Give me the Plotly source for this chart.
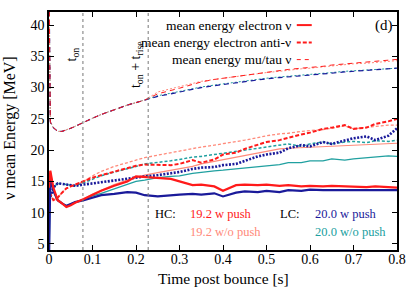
import plotly.graph_objects as go

# ---------------- data ----------------
t = [0, 0.003, 0.01, 0.02, 0.03, 0.04, 0.05, 0.06, 0.08, 0.1, 0.12, 0.15, 0.18, 0.2, 0.22,
     0.25, 0.28, 0.3, 0.33, 0.35, 0.38, 0.4, 0.43, 0.45, 0.48, 0.5, 0.53, 0.55, 0.58, 0.6,
     0.63, 0.65, 0.68, 0.7, 0.73, 0.75, 0.78, 0.8]

mu_early = [48, 24.5, 23.6, 23.0, 23.0, 23.2, 23.5, 23.8, 24.5, 25.1, 25.7, 26.5, 27.2, 27.6, 28.0]
mutau_hc_push = mu_early + [29.0, 29.5, 29.9, 30.5, 30.9, 31.3, 31.5, 31.8, 32.0, 32.3, 32.5, 32.7, 32.9,
                            33.1, 33.2, 33.4, 33.6, 33.8, 33.9, 34.1, 34.2, 34.4, 34.5]
mutau_hc_nopush = mu_early + [29.3, 29.8, 30.2, 30.7, 31.0, 31.3, 31.5, 31.7, 31.9, 32.2, 32.4, 32.6, 32.8,
                              33.0, 33.1, 33.3, 33.5, 33.6, 33.8, 33.9, 34.0, 34.2, 34.3]
mutau_lc_push = mu_early + [28.6, 29.0, 29.3, 29.7, 30.0, 30.3, 30.5, 30.8, 31.0, 31.2, 31.4, 31.6, 31.7,
                            31.9, 32.0, 32.2, 32.3, 32.5, 32.6, 32.8, 32.9, 33.0, 33.1]
mutau_lc_nopush = mu_early + [28.7, 29.1, 29.4, 29.8, 30.1, 30.4, 30.6, 30.9, 31.1, 31.3, 31.5, 31.7, 31.8,
                              32.0, 32.1, 32.3, 32.4, 32.6, 32.7, 32.8, 32.9, 33.0, 33.1]

nue_hc_push = [14.0, 16.7, 14.0, 12.0, 11.5, 10.9, 11.2, 11.6, 12.2, 12.9, 13.5, 14.3, 15.0, 15.8, 15.7,
               15.5, 15.4, 15.0, 14.4, 14.5, 14.2, 13.5, 14.4, 14.5, 14.4, 14.5, 14.3, 14.4, 14.2, 14.3,
               14.2, 14.3, 14.2, 14.1, 14.1, 14.2, 14.1, 14.0]
nue_lc_push = [2.0, 15.8, 13.5, 12.0, 11.5, 11.1, 11.4, 11.7, 12.0, 12.4, 12.8, 13.0, 13.3, 13.2, 12.8,
               12.6, 12.8, 12.9, 13.0, 12.9, 13.1, 12.6, 13.2, 13.4, 13.3, 13.5, 13.3, 13.6, 13.5, 13.7,
               13.6, 13.6, 13.5, 13.6, 13.6, 13.5, 13.6, 13.6]
nue_hc_nopush = [14.0, 16.7, 14.0, 12.0, 11.5, 10.9, 11.2, 11.6, 12.2, 13.0, 13.6, 14.5, 15.2, 15.6, 16.0,
                 16.4, 16.8, 17.0, 17.4, 17.8, 18.2, 18.5, 18.9, 19.2, 19.5, 19.8, 20.2, 20.3, 20.4, 20.5,
                 20.6, 20.6, 20.7, 20.8, 20.9, 21.0, 21.1, 21.1]
nue_lc_nopush = [2.0, 15.8, 13.5, 12.0, 11.5, 11.1, 11.4, 11.7, 12.1, 12.7, 13.1, 13.8, 14.5, 15.0, 15.2,
                 15.6, 15.8, 15.9, 16.3, 16.5, 16.7, 16.8, 17.0, 17.1, 17.3, 17.5, 17.7, 18.0, 18.0, 18.3,
                 18.3, 18.6, 18.4, 18.6, 18.8, 18.9, 19.1, 19.0]

anue_hc_push = [13.0, 13.0, 12.0, 12.4, 13.2, 13.9, 14.2, 14.5, 15.0, 15.6, 16.0, 16.6, 17.1, 17.5, 17.7,
                17.7, 17.6, 17.8, 18.4, 18.0, 18.5, 19.3, 19.6, 20.2, 20.8, 21.3, 21.6, 22.0, 22.5, 22.8,
                23.4, 23.6, 24.0, 23.4, 23.6, 24.2, 24.6, 25.0]
anue_lc_push = [12.0, 12.5, 14.0, 14.7, 14.6, 14.5, 14.3, 14.3, 14.5, 14.7, 14.9, 15.1, 15.4, 15.6, 15.8,
                16.0, 16.3, 16.5, 17.0, 17.2, 17.3, 17.6, 17.8, 18.3, 19.0, 19.3, 19.6, 20.3, 20.8, 20.6,
                21.3, 21.0, 21.6, 21.9, 22.2, 21.6, 22.3, 23.5]
anue_hc_nopush = [13.0, 13.0, 12.0, 12.4, 13.2, 13.9, 14.2, 14.5, 15.0, 15.9, 16.6, 17.4, 18.0, 18.4, 18.8,
                  19.2, 19.6, 19.9, 20.3, 20.5, 20.8, 21.0, 21.3, 21.6, 22.0, 22.3, 22.6, 22.7, 23.0, 23.1,
                  23.3, 23.5, 23.9, 23.4, 23.7, 23.8, 24.0, 24.0]
anue_lc_nopush = [12.0, 12.5, 14.0, 14.7, 14.6, 14.5, 14.3, 14.3, 14.8, 15.4, 15.9, 16.5, 17.0, 17.4, 17.8,
                  18.0, 18.3, 18.5, 18.9, 19.0, 19.3, 19.5, 19.8, 20.0, 20.4, 20.5, 20.8, 21.0, 20.6, 21.0,
                  21.3, 21.0, 21.3, 21.4, 21.2, 21.5, 21.4, 21.6]

t_on = 0.078
t_on_rise = 0.228
x_ticks = [0, 0.1, 0.2, 0.3, 0.4, 0.5, 0.6, 0.7, 0.8]
x_ticklabels = ["0", "0.1", "0.2", "0.3", "0.4", "0.5", "0.6", "0.7", "0.8"]
y_ticks = [5, 10, 15, 20, 25, 30, 35, 40]

legend_labels = ["mean energy electron \u03bd", "mean energy electron anti-\u03bd", "mean energy mu/tau \u03bd"]
model_labels = ["19.2 w push", "19.2 w/o push", "20.0 w push", "20.0 w/o push"]
x_title = "Time post bounce [s]"
y_title = "\u03bd mean Energy [MeV]"

# ---------------- style ----------------
RED = "#ff1a1a"
SALMON = "#ff8a7a"
NAVY = "#1a1a9a"
TEAL = "#20a0a0"
FONT = "Liberation Serif"

fig = go.Figure()

def add(y, color, width, dash):
    fig.add_trace(go.Scatter(x=t, y=y, mode="lines",
                             line=dict(color=color, width=width, dash=dash),
                             showlegend=False, hoverinfo="skip"))

# mu/tau
add(mutau_lc_nopush, TEAL, 1.0, "2px,2px")
add(mutau_hc_nopush, SALMON, 1.0, "2px,2px")
add(mutau_lc_push, NAVY, 1.2, "5px,4px")
add(mutau_hc_push, RED, 1.0, "5px,4px")
# electron nu
add(nue_lc_nopush, TEAL, 1.3, "solid")
add(nue_hc_nopush, SALMON, 1.2, "solid")
# anti nu
add(anue_lc_nopush, TEAL, 1.5, "3px,2px")
add(anue_hc_nopush, SALMON, 1.3, "3px,2px")
add(anue_lc_push, NAVY, 2.6, "2px,1.5px")
add(anue_hc_push, RED, 2.0, "4px,2px")
# electron nu w push
add(nue_lc_push, NAVY, 2.2, "solid")
add(nue_hc_push, RED, 2.2, "solid")

shapes = []
for xv in (t_on, t_on_rise):
    shapes.append(dict(type="line", xref="x", yref="paper", x0=xv, x1=xv, y0=0, y1=1,
                       line=dict(color="#777777", width=1, dash="dot")))

# legend samples (right of text)
leg_y = [0.945, 0.872, 0.800]
leg_dash = ["solid", "4px,2px", "4px,4px"]
leg_w = [2.0, 2.0, 1.0]
annotations = []
for lbl, yy, dsh, w in zip(legend_labels, leg_y, leg_dash, leg_w):
    shapes.append(dict(type="line", xref="paper", yref="paper", x0=0.712, x1=0.755, y0=yy, y1=yy,
                       line=dict(color=RED, width=w, dash=dsh)))
    annotations.append(dict(xref="paper", yref="paper", x=0.700, y=yy, text=lbl, showarrow=False,
                            xanchor="right", yanchor="middle",
                            font=dict(family=FONT, size=13.5, color="black")))

annotations.append(dict(xref="paper", yref="paper", x=0.962, y=0.945, text="(d)", showarrow=False,
                        xanchor="center", yanchor="middle", font=dict(family=FONT, size=15, color="black")))

# HC / LC labels
row1, row2 = 0.151, 0.076
for txt, xx, yy, col in [("HC:", 0.299, row1, "black"), (model_labels[0], 0.399, row1, RED),
                         (model_labels[1], 0.399, row2, SALMON), ("LC:", 0.658, row1, "black"),
                         (model_labels[2], 0.759, row1, NAVY), (model_labels[3], 0.759, row2, TEAL)]:
    annotations.append(dict(xref="paper", yref="paper", x=xx, y=yy, text=txt, showarrow=False,
                            xanchor="left", yanchor="middle", font=dict(family=FONT, size=12.5, color=col)))

annotations.append(dict(xref="x", yref="y", x=0.053, y=35.3, text="t<sub>on</sub>", showarrow=False,
                        textangle=-90, font=dict(family=FONT, size=14, color="black")))
annotations.append(dict(xref="x", yref="y", x=0.200, y=33.6, text="t<sub>on</sub> + t<sub>rise</sub>",
                        showarrow=False, textangle=-90, font=dict(family=FONT, size=14, color="black")))

# axis titles
annotations.append(dict(xref="paper", yref="paper", x=0.5, y=-0.12, text=x_title, showarrow=False,
                        xanchor="center", yanchor="middle", font=dict(family=FONT, size=15.5, color="black")))
annotations.append(dict(xref="paper", yref="paper", x=-0.112, y=0.51, text=y_title, showarrow=False,
                        textangle=-90, xanchor="center", yanchor="middle",
                        font=dict(family=FONT, size=16, color="black")))

axis_common = dict(showline=True, linecolor="black", linewidth=1.5, mirror="ticks",
                   ticks="inside", ticklen=5, tickwidth=1, tickcolor="black",
                   showgrid=False, zeroline=False,
                   tickfont=dict(family=FONT, size=14, color="black"))

fig.update_layout(
    width=415, height=291,
    margin=dict(l=49, r=18, t=12, b=41, autoexpand=False),
    paper_bgcolor="white", plot_bgcolor="white",
    xaxis=dict(range=[0, 0.8], tickvals=x_ticks, ticktext=x_ticklabels, ticklabelstandoff=-5,
               **axis_common),
    yaxis=dict(range=[4.04, 42.08], tickvals=y_ticks,
               **axis_common),
    shapes=shapes,
    annotations=annotations,
)

fig.write_html("out.html", config={"displayModeBar": False},
               post_script="document.body.style.margin='0px';document.body.style.padding='0px';")
